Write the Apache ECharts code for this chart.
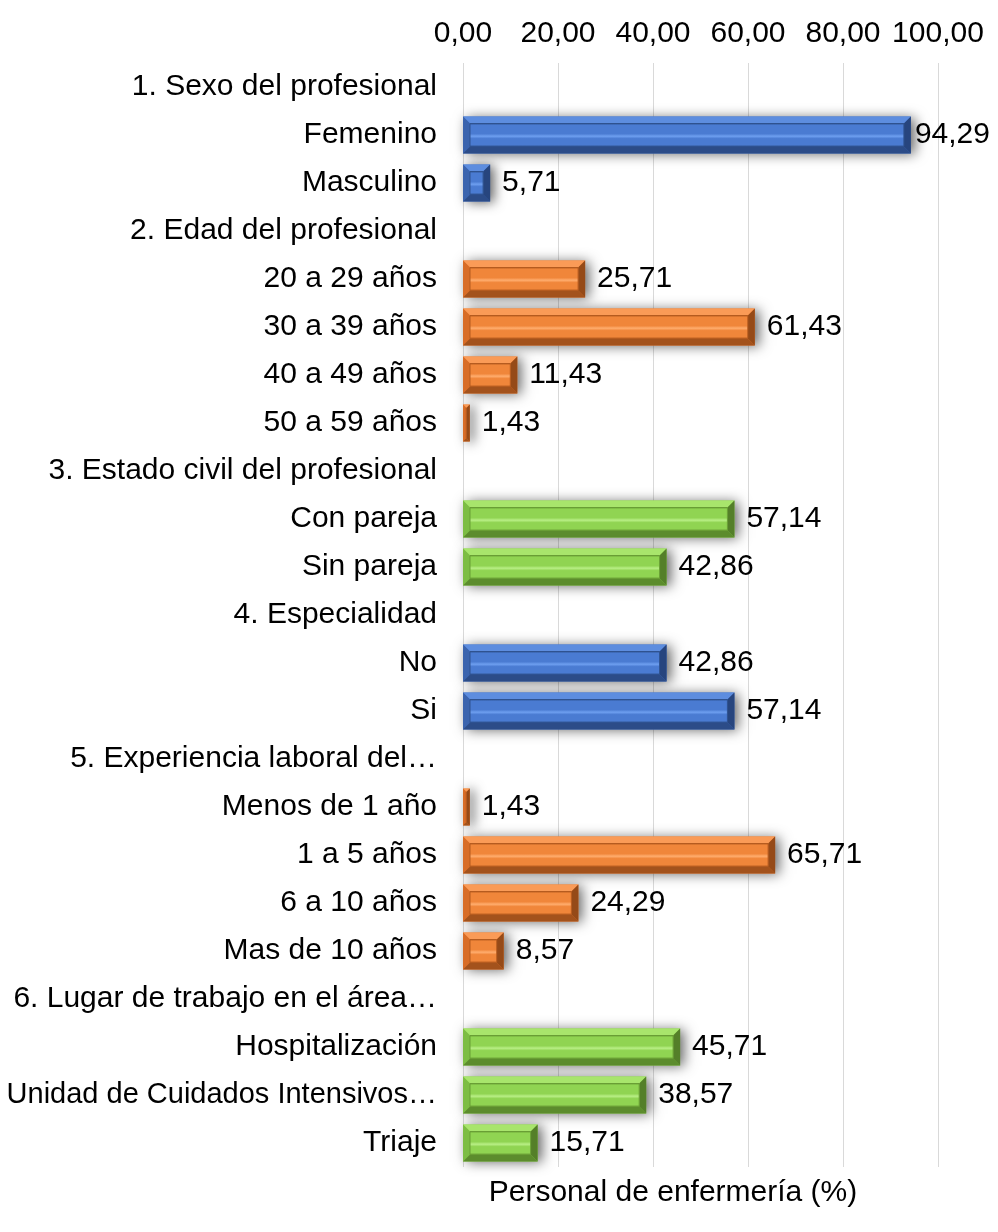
<!DOCTYPE html>
<html>
<head>
<meta charset="utf-8">
<script src="https://cdn.jsdelivr.net/npm/echarts@6/dist/echarts.min.js"></script>
<style>
html,body{margin:0;padding:0;background:#fff;}
#chart{width:998px;height:1232px;}
</style>
</head>
<body>
<div id="chart"></div>
<script>
var categories = [
  "1. Sexo del profesional",
  "Femenino",
  "Masculino",
  "2. Edad del profesional",
  "20 a 29 años",
  "30 a 39 años",
  "40 a 49 años",
  "50 a 59 años",
  "3. Estado civil del profesional",
  "Con pareja",
  "Sin pareja",
  "4. Especialidad",
  "No",
  "Si",
  "5. Experiencia laboral del…",
  "Menos de 1 año",
  "1 a 5 años",
  "6 a 10 años",
  "Mas de 10 años",
  "6. Lugar de trabajo en el área…",
  "Hospitalización",
  "Unidad de Cuidados Intensivos…",
  "Triaje"
];
var values = [
  null, 94.29, 5.71,
  null, 25.71, 61.43, 11.43, 1.43,
  null, 57.14, 42.86,
  null, 42.86, 57.14,
  null, 1.43, 65.71, 24.29, 8.57,
  null, 45.71, 38.57, 15.71
];
// colour group of each category (0 blue, 1 orange, 2 green)
var groups = [
  0, 0, 0,
  1, 1, 1, 1, 1,
  2, 2, 2,
  0, 0, 0,
  1, 1, 1, 1, 1,
  2, 2, 2, 2
];
var xTicks = [0, 20, 40, 60, 80, 100];
var axisTitle = "Personal de enfermería (%)";
</script>
<script>
var FONT = '"Liberation Sans", Arial, sans-serif';
var palettes = [
  {base:'#4472c4', top:'#5d8ddf', left:'#3b64ae', bottom:'#2c4c88', right:'#27457e', edge:'#2f528f', face:'#4a7bd2', stripe:'#6e9ff0'},
  {base:'#ed7d31', top:'#fa9b57', left:'#d86d27', bottom:'#a3521c', right:'#954a18', edge:'#b45b1f', face:'#f0863a', stripe:'#ffad6e'},
  {base:'#8ccf4e', top:'#a8e56c', left:'#7dbd44', bottom:'#5c8c2d', right:'#547f29', edge:'#699e35', face:'#90d452', stripe:'#b9ef86'}
];
function fmt(v){ return v.toFixed(2).replace('.', ','); }

var data = [];
values.forEach(function(v, i){ if (v != null) data.push([v, i]); });

var catData = categories.map(function(c){
  return c.length > 28 && c.indexOf('Unidad') === 0 ? {value:c, textStyle:{fontSize:29}} : c;
});

function renderItem(params, api) {
  var v = api.value(0), ci = api.value(1);
  var p0 = api.coord([0, ci]), p1 = api.coord([v, ci]);
  var h = api.size([0, 1])[1] * 0.77;
  var x = p0[0], y = p0[1] - h / 2, w = p1[0] - p0[0];
  var pal = palettes[groups[ci]] || palettes[0];
  var b = Math.min(7, w / 2, h / 2);
  var labelX = p1[0] + 12;
  var txt = fmt(v);
  if (labelX + 78 > api.getWidth()) labelX = p1[0] + 4;
  return {
    type: 'group',
    children: [
      {type:'rect', shape:{x:x, y:y, width:w, height:h},
        style:{fill:pal.base, shadowBlur:12, shadowOffsetX:4, shadowOffsetY:1, shadowColor:'rgba(0,0,0,0.6)'}},
      {type:'polygon', shape:{points:[[x,y],[x+w,y],[x+w-b,y+b],[x+b,y+b]]}, style:{fill:pal.top}},
      {type:'polygon', shape:{points:[[x,y],[x+b,y+b],[x+b,y+h-b],[x,y+h]]}, style:{fill:pal.left}},
      {type:'polygon', shape:{points:[[x,y+h],[x+b,y+h-b],[x+w-b,y+h-b],[x+w,y+h]]}, style:{fill:pal.bottom}},
      {type:'polygon', shape:{points:[[x+w,y],[x+w,y+h],[x+w-b,y+h-b],[x+w-b,y+b]]}, style:{fill:pal.right}},
      {type:'rect', shape:{x:x+b, y:y+b, width:Math.max(0,w-2*b), height:Math.max(0,h-2*b)},
        style:{fill:new echarts.graphic.LinearGradient(0,0,0,1,[
          {offset:0, color:pal.edge},{offset:0.1, color:pal.face},{offset:0.45, color:pal.face},
          {offset:0.55, color:pal.stripe},{offset:0.65, color:pal.face},{offset:0.9, color:pal.face},{offset:1, color:pal.edge}]),
          stroke:pal.edge, lineWidth:1}},
      {type:'text', x:labelX, y:p0[1],
        style:{text:txt, fill:'#000', font:'30px ' + FONT, textVerticalAlign:'middle', verticalAlign:'middle', textAlign:'left', align:'left'}}
    ]
  };
}

var chart = echarts.init(document.getElementById('chart'), null, {renderer:'canvas'});
chart.setOption({
  animation: false,
  backgroundColor: '#fff',
  grid: {left: 463, right: 60, top: 63, bottom: 65, containLabel: false},
  xAxis: {
    type: 'value', position: 'top', min: xTicks[0], max: xTicks[xTicks.length-1], interval: 20,
    axisLine: {show:false}, axisTick: {show:false},
    splitLine: {show:true, lineStyle:{color:'#d9d9d9', width:1}},
    axisLabel: {formatter: function(v){ return fmt(v); }, color:'#000', fontSize:30,
      fontFamily:FONT, margin:14}
  },
  yAxis: {
    type: 'category', data: catData, inverse: true,
    axisLine: {show:false}, axisTick: {show:false}, splitLine:{show:false},
    axisLabel: {color:'#000', fontSize:30, fontFamily:FONT, margin:26, interval:0}
  },
  series: [{
    type: 'custom',
    renderItem: renderItem,
    encode: {x: 0, y: 1},
    data: data,
    clip: false
  }],
  graphic: [{
    type:'text', x: 673, y: 1193,
    style:{text: axisTitle, fill:'#000', font:'30px ' + FONT, textAlign:'center', align:'center', textVerticalAlign:'middle', verticalAlign:'middle'}
  }]
});
</script>
</body>
</html>
